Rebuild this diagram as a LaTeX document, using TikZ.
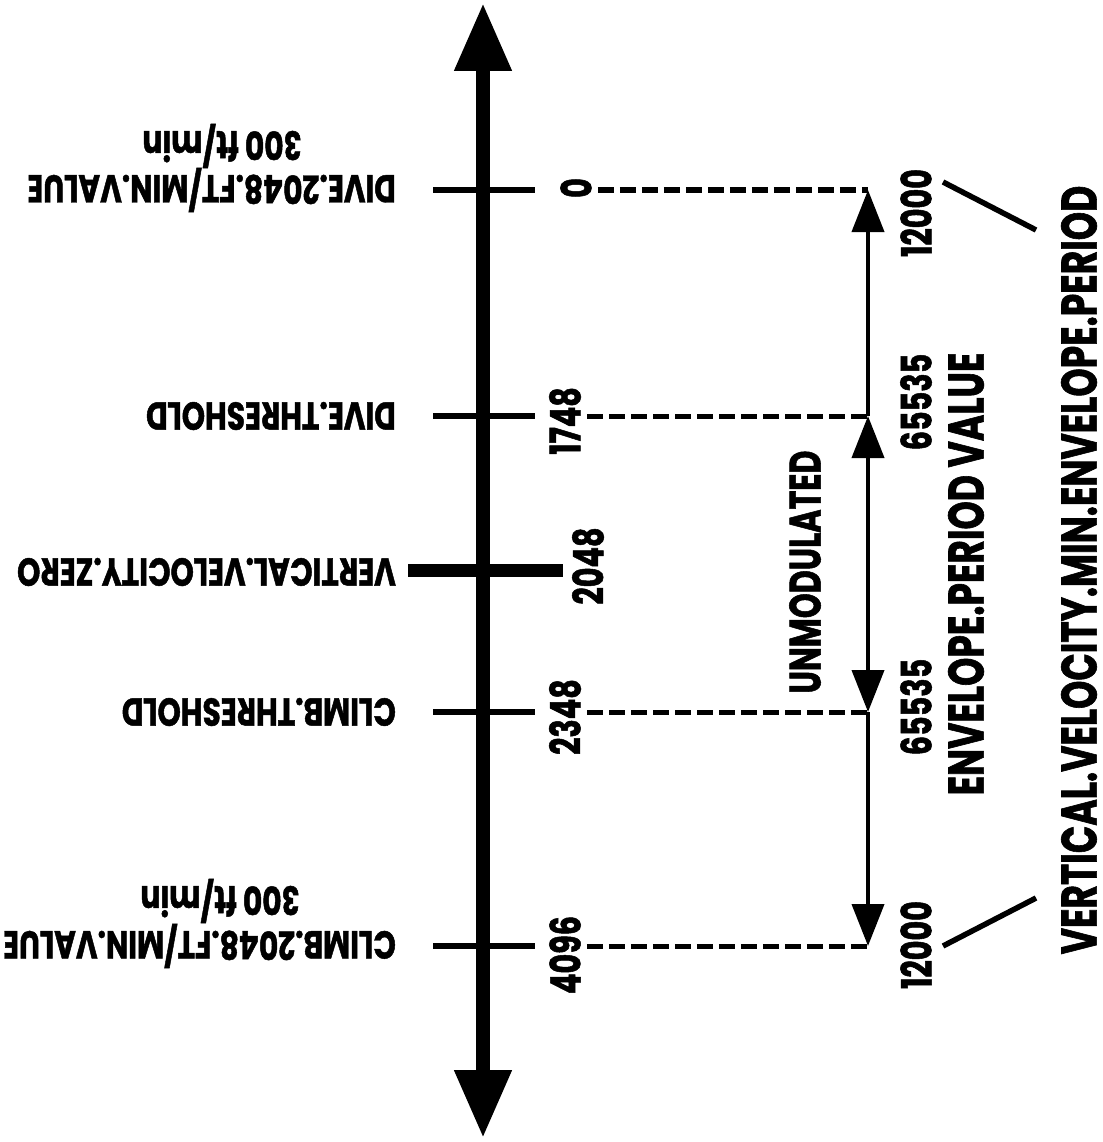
\documentclass[tikz,border=0pt]{standalone}
\usepackage{fontspec}
\setmainfont{Poppins}[FakeStretch=0.76, FakeBold=1.2]
\newfontfamily\narrowfont{Poppins}[FakeStretch=0.72, FakeBold=1.2]
\usetikzlibrary{arrows.meta,calc}
\tikzset{
  axisline/.style={line width=14pt, {Triangle[length=68pt,width=54pt]}-{Triangle[length=68pt,width=54pt]}},
  tickmark/.style={line width=6pt},
  zeromark/.style={line width=13pt},
  dashguide/.style={line width=5pt, dash pattern=on 16pt off 6pt},
  rangeline/.style={line width=4pt},
  rangetip/.style={-{Triangle[length=42pt,width=32pt]}},
  rangetips/.style={{Triangle[length=42pt,width=32pt]}-{Triangle[length=42pt,width=32pt]}},
  slash/.style={line width=5.5pt},
  leftlbl/.style={rotate=180, anchor=west, inner sep=0pt, font=\fontsize{39}{46}\selectfont\bfseries},
  sublbl/.style={rotate=180, inner sep=0pt, font=\fontsize{39}{46}\selectfont\bfseries},
  numlbl/.style={rotate=90, inner sep=0pt, font=\narrowfont\fontsize{42}{50}\selectfont\bfseries},
  sidelbl/.style={rotate=90, inner sep=0pt, font=\narrowfont\fontsize{50}{60}\selectfont\bfseries}
}
\begin{document}
\begin{tikzpicture}[x=1pt, y=-1pt]
  \useasboundingbox (0,0) rectangle (1102,1142);
  % main scale
  \coordinate (axtop) at (483,3);
  \coordinate (axbot) at (483,1138);
  \draw[axisline] (axbot) -- (axtop);
  \foreach \n/\y in {dmin/190, dthr/416, cthr/712, cmin/946}{
    \coordinate (\n) at (483,\y);
    \draw[tickmark] ($(\n)+(-50,0)$) -- ($(\n)+(52,0)$);
  }
  \coordinate (vzero) at (483,570);
  \draw[zeromark] ($(vzero)+(-75,0)$) -- ($(vzero)+(80,0)$);

  % left labels
  \node[leftlbl] (dminlbl) at (396,190) {DIVE.2048.FT/MIN.VALUE};
  \node[sublbl] (dminft) at (222,146) {300 ft/min};
  \node[leftlbl] (dthrlbl) at (396,416) {DIVE.THRESHOLD};
  \node[leftlbl] (vzerolbl) at (396,572) {VERTICAL.VELOCITY.ZERO};
  \node[leftlbl] (cthrlbl) at (396,712) {CLIMB.THRESHOLD};
  \node[leftlbl] (cminlbl) at (396,946) {CLIMB.2048.FT/MIN.VALUE};
  \node[sublbl] (cminft) at (220,901) {300 ft/min};

  % counts next to the scale
  \node[numlbl] (dminval) at (576,188) {0};
  \node[numlbl] (dthrval) at (565,421) {1748};
  \node[numlbl] (vzeroval) at (588,566) {2048};
  \node[numlbl] (cthrval) at (565,717) {2348};
  \node[numlbl] (cminval) at (565,955) {4096};

  % envelope period range
  \coordinate (r0) at (868,190);
  \coordinate (r1) at (868,416);
  \coordinate (r2) at (868,712);
  \coordinate (r3) at (868,946);
  \foreach \a/\b in {dminval/r0, dthrval/r1, cthrval/r2, cminval/r3}{
    \draw[dashguide] ($(\a.south |- \b)+(6,0)$) -- (\b);
  }
  \draw[rangeline, rangetip] (r1) -- (r0);
  \draw[rangeline, rangetips] (r1) -- (r2);
  \draw[rangeline, rangetip] (r2) -- (r3);

  \node[numlbl] (p0) at (916,213) {12000};
  \node[numlbl] (p1) at (916,402) {65535};
  \node[numlbl] (p2) at (916,707) {65535};
  \node[numlbl] (p3) at (916,945) {12000};

  \node[sidelbl, font=\narrowfont\fontsize{44}{52}\selectfont\bfseries] (unmod) at (805,572) {UNMODULATED};
  \node[sidelbl] (envval) at (966,574) {ENVELOPE.PERIOD VALUE};
  \node[sidelbl] (minenv) at (1079,570) {VERTICAL.VELOCITY.MIN.ENVELOPE.PERIOD};
  \coordinate (s0) at (943,182);
  \coordinate (s1) at (1036,230);
  \coordinate (s2) at (943,946);
  \coordinate (s3) at (1036,898);
  \draw[slash] (s0) -- (s1);
  \draw[slash] (s2) -- (s3);
\end{tikzpicture}
\end{document}
